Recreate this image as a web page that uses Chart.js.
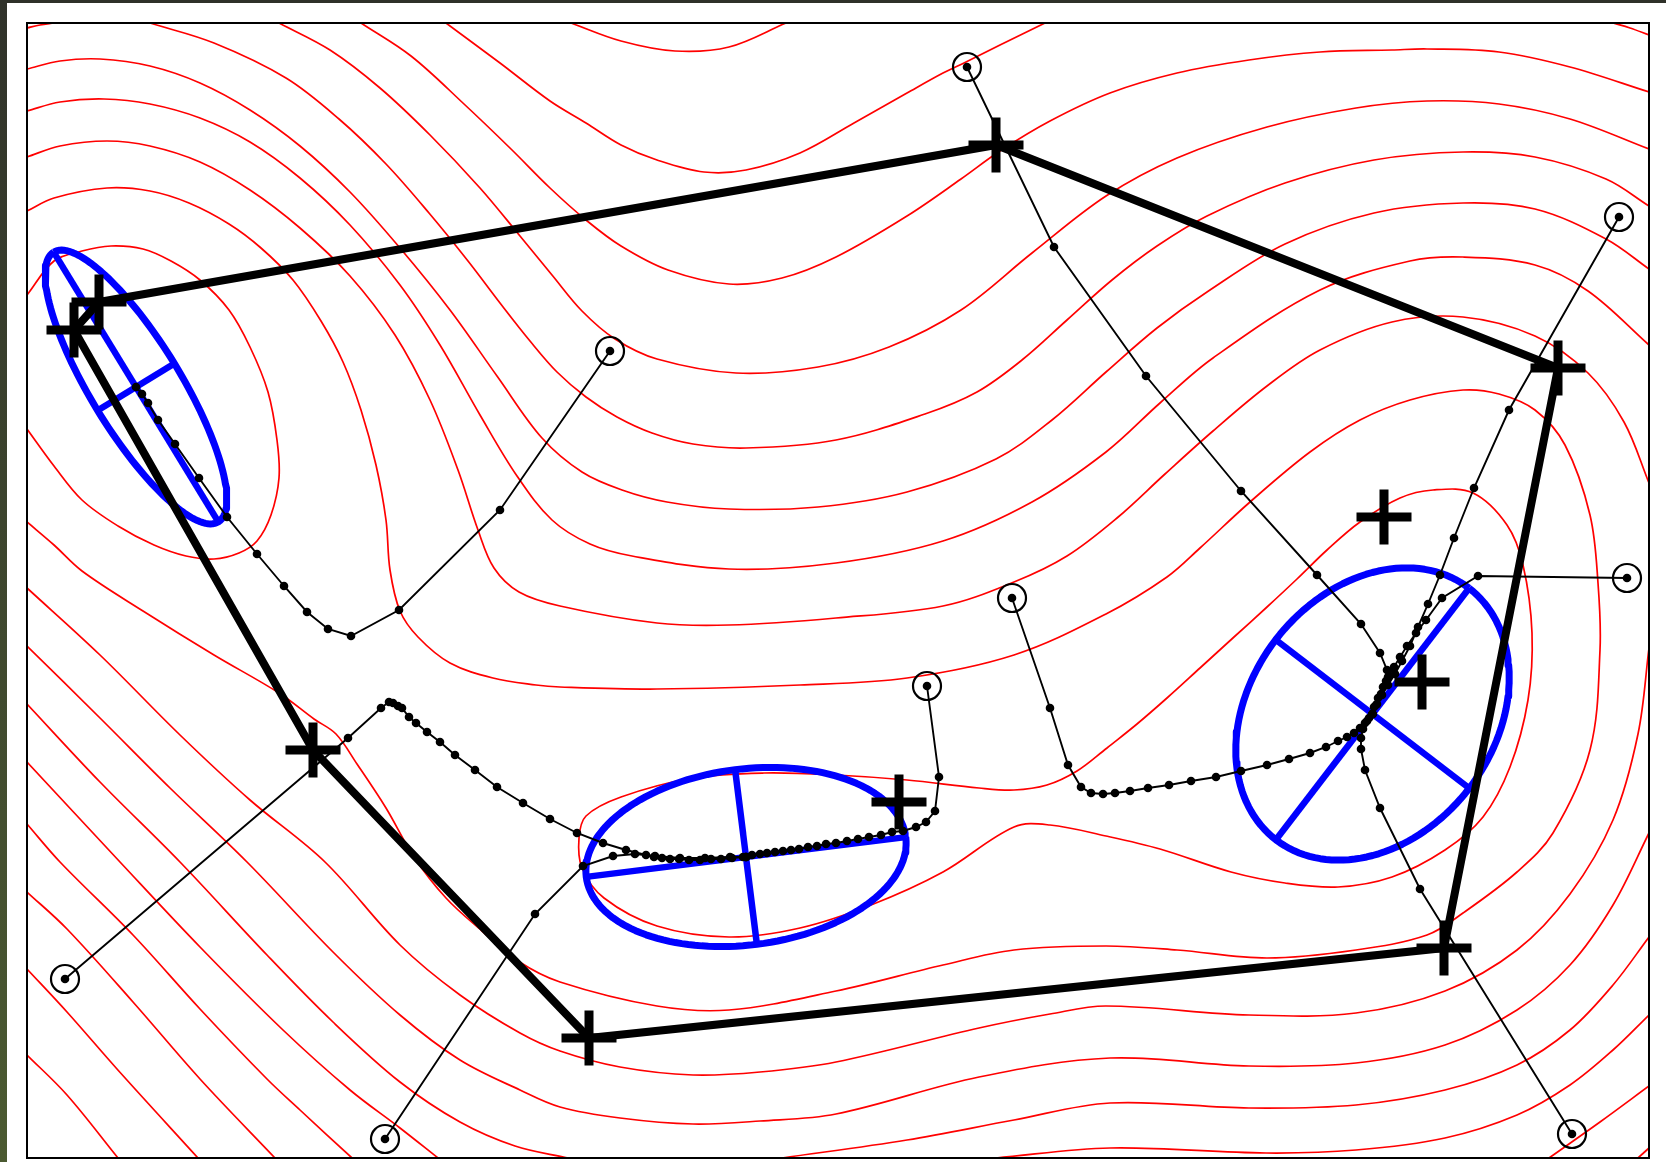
<!DOCTYPE html>
<html>
<head>
<meta charset="utf-8">
<title>Contours, descent paths and curvature ellipses</title>
<script src="https://cdn.jsdelivr.net/npm/chart.js@4.4.1/dist/chart.umd.min.js"></script>
<style>
  html, body { margin: 0; padding: 0; background: #ffffff; }
  #wrap { position: relative; width: 1666px; height: 1162px; overflow: hidden; background: #ffffff; }
  #wrap canvas { position: absolute; left: 0; top: 0; }
  #edgeTop { position: absolute; left: 0; top: 0; width: 1666px; height: 3px; background: #2f3129; }
  #edgeLeft { position: absolute; left: 0; top: 0; width: 7px; height: 1162px; background: linear-gradient(#30322a, #4b5a31); }
</style>
</head>
<body>
<div id="wrap">
  <canvas id="chart" width="1666" height="1162"></canvas>
  <div id="edgeTop"></div>
  <div id="edgeLeft"></div>
</div>
<script>
// Plane coordinates: x in [0, 16.22], y in [0, 11.35]

// ---- level curves of the objective ----
const contourC1 = [[0.00,11.30],[0.13,11.33],[0.27,11.35]];
const contourTR = [[15.86,11.35],[16.03,11.30],[16.22,11.23]];
const contourU1 = [[5.44,11.35],[5.94,11.17],[6.48,11.07],[7.02,11.11],[7.59,11.35]];
const contourU2 = [[4.19,11.35],[4.73,10.95],[5.23,10.57],[5.59,10.35],[5.94,10.13],[6.30,9.98],[6.77,9.86],[7.19,9.88],[7.73,10.05],[8.27,10.35],[8.80,10.65],[9.16,10.85],[9.39,10.96],[9.73,11.13],[10.18,11.35]];
const contourU3 = [[3.34,11.35],[3.84,11.02],[4.37,10.54],[4.84,10.09],[5.23,9.70],[5.59,9.38],[5.94,9.12],[6.41,8.88],[7.02,8.74],[7.55,8.80],[8.09,9.01],[8.80,9.42],[9.34,9.79],[9.73,10.07],[10.23,10.37],[10.83,10.65],[11.50,10.85],[12.22,10.98],[12.93,11.06],[13.65,11.08],[14.00,11.09],[14.72,11.06],[15.43,10.91],[16.22,10.66]];
const contourU4 = [[2.52,11.35],[3.03,11.08],[3.53,10.70],[4.03,10.23],[4.53,9.70],[4.93,9.22],[5.25,8.83],[5.55,8.47],[5.88,8.19],[6.30,7.99],[7.09,7.85],[7.91,7.91],[8.62,8.11],[9.34,8.48],[10.05,9.05],[10.79,9.62],[11.50,10.00],[12.40,10.31],[13.29,10.50],[14.00,10.57],[14.72,10.54],[15.43,10.39],[16.22,10.09]];
const contourU5 = [[1.23,11.35],[1.87,11.15],[2.59,10.80],[3.12,10.39],[3.59,9.94],[4.02,9.45],[4.41,8.97],[4.73,8.55],[5.03,8.17],[5.30,7.86],[5.59,7.61],[5.90,7.41],[6.25,7.25],[6.66,7.14],[7.19,7.10],[8.09,7.18],[8.98,7.44],[9.50,7.66],[9.95,7.98],[10.40,8.38],[10.85,8.78],[11.30,9.12],[11.80,9.42],[12.58,9.75],[13.47,9.98],[14.36,10.06],[15.08,10.01],[15.79,9.79],[16.22,9.52]];
const contourU6 = [[0.00,10.89],[0.33,10.97],[0.73,10.99],[1.23,10.92],[1.73,10.75],[2.23,10.48],[2.73,10.12],[3.23,9.66],[3.73,9.10],[4.23,8.48],[4.70,7.82],[5.15,7.20],[5.55,6.86],[5.95,6.68],[6.40,6.56],[7.02,6.49],[7.91,6.51],[8.80,6.66],[9.69,6.99],[10.25,7.38],[10.79,7.86],[11.30,8.30],[11.80,8.66],[12.58,9.14],[13.47,9.45],[14.36,9.55],[15.08,9.49],[15.79,9.19],[16.22,8.89]];
const contourU7 = [[0.00,10.47],[0.33,10.56],[0.77,10.59],[1.23,10.54],[1.73,10.40],[2.23,10.16],[2.73,9.80],[3.23,9.33],[3.73,8.73],[4.13,8.13],[4.53,7.43],[4.90,6.82],[5.25,6.38],[5.63,6.14],[6.05,6.02],[7.02,5.89],[8.09,5.95],[9.16,6.17],[10.05,6.56],[10.79,7.06],[11.33,7.55],[11.86,8.00],[12.93,8.68],[13.83,8.97],[14.36,9.01],[15.08,8.93],[15.61,8.67],[16.22,8.13]];
const contourU8 = [[0.00,10.01],[0.33,10.12],[0.80,10.17],[1.23,10.12],[1.73,9.96],[2.23,9.68],[2.73,9.30],[3.23,8.82],[3.68,8.23],[4.03,7.58],[4.31,6.88],[4.51,6.28],[4.67,5.90],[4.92,5.66],[5.33,5.52],[6.30,5.35],[7.02,5.33],[8.09,5.40],[9.16,5.52],[9.87,5.76],[10.40,6.02],[10.90,6.40],[11.38,6.84],[11.86,7.27],[12.40,7.72],[12.93,8.08],[13.65,8.36],[14.36,8.41],[15.08,8.22],[15.61,7.85],[15.97,7.36],[16.22,6.75]];
const contourOuter = [[0.00,9.47],[0.27,9.60],[0.80,9.70],[1.23,9.67],[1.62,9.55],[2.02,9.34],[2.34,9.10],[2.66,8.78],[2.94,8.37],[3.16,7.96],[3.34,7.48],[3.49,6.93],[3.59,6.38],[3.63,5.88],[3.73,5.47],[3.91,5.21],[4.23,4.95],[4.66,4.80],[5.09,4.73],[5.33,4.71],[6.30,4.69],[7.73,4.73],[8.80,4.80],[9.87,5.03],[10.79,5.44],[11.40,5.81],[11.73,6.10],[12.23,6.56],[12.83,7.06],[13.33,7.38],[13.83,7.58],[14.36,7.68],[14.72,7.64],[15.08,7.48],[15.38,7.13],[15.63,6.43],[15.71,5.75],[15.73,5.08],[15.63,4.08],[15.26,3.25],[14.90,2.86],[14.36,2.45],[14.00,2.23],[13.29,2.08],[12.40,2.00],[11.50,2.08],[10.79,2.12],[9.87,2.08],[9.16,1.93],[8.09,1.67],[7.02,1.48],[6.30,1.52],[5.33,1.76],[4.91,1.97],[4.55,2.27],[4.19,2.60],[3.87,3.01],[3.59,3.50],[3.30,3.94],[3.09,4.24],[2.87,4.39],[2.52,4.65],[1.87,5.03],[1.16,5.47],[0.55,5.87],[0.27,6.13],[0.00,6.36]];
const contourLeftBasin = [[0.00,8.63],[0.27,8.97],[0.55,9.07],[0.84,9.12],[1.16,9.09],[1.44,8.97],[1.73,8.78],[2.02,8.48],[2.23,8.11],[2.41,7.66],[2.50,7.18],[2.52,6.80],[2.44,6.43],[2.30,6.17],[2.12,6.05],[1.87,5.99],[1.59,6.02],[1.27,6.13],[0.91,6.32],[0.55,6.58],[0.27,6.92],[0.00,7.29]];
const contourValley = [[10.80,4.10],[11.10,4.34],[11.40,4.60],[11.73,4.90],[12.07,5.21],[12.40,5.51],[12.70,5.79],[13.00,6.08],[13.33,6.36],[13.73,6.60],[14.06,6.68],[14.46,6.65],[14.80,6.33],[14.96,5.93],[15.05,5.25],[15.01,4.58],[14.83,3.91],[14.56,3.41],[14.18,3.08],[13.65,2.81],[13.11,2.71],[12.58,2.75],[12.04,2.86],[11.33,3.09],[10.79,3.22],[10.23,3.33],[9.87,3.31],[9.16,2.86],[8.44,2.53],[7.73,2.30],[7.02,2.21],[6.30,2.32],[5.77,2.60],[5.55,2.90],[5.52,3.20],[5.59,3.42],[5.94,3.61],[6.66,3.80],[7.37,3.85],[8.09,3.83],[8.80,3.78],[9.52,3.70],[9.87,3.68],[10.20,3.73],[10.50,3.87],[10.80,4.10]];
const contourA1 = [[0.00,5.70],[0.73,5.03],[1.53,4.23],[2.23,3.58],[2.98,2.96],[3.73,2.13],[4.33,1.63],[4.93,1.25],[5.33,1.07],[5.93,0.91],[6.66,0.83],[7.33,0.86],[8.09,0.96],[9.52,1.30],[10.23,1.44],[10.79,1.52],[12.22,1.43],[13.29,1.45],[14.18,1.67],[14.90,2.08],[15.43,2.64],[15.86,3.38],[16.11,4.24],[16.22,5.10]];
const contourA2 = [[0.00,5.12],[0.73,4.40],[1.43,3.70],[2.20,2.96],[3.06,2.06],[3.73,1.43],[4.33,0.98],[4.93,0.68],[5.33,0.51],[5.93,0.40],[6.66,0.34],[7.33,0.37],[8.09,0.44],[9.52,0.81],[10.83,1.00],[12.22,0.92],[13.29,0.95],[14.18,1.13],[14.90,1.48],[15.43,1.93],[15.86,2.53],[16.22,3.25]];
const contourA3 = [[0.00,4.54],[0.73,3.76],[1.53,2.96],[2.40,2.03],[3.06,1.36],[3.73,0.76],[4.33,0.36],[4.88,0.12],[5.41,0.00]];
const contourA4 = [[7.55,0.00],[8.80,0.18],[9.87,0.38],[10.83,0.55],[12.22,0.50],[13.29,0.53],[14.18,0.68],[14.90,0.93],[15.43,1.28],[15.86,1.73],[16.22,2.21]];
const contourA5 = [[9.69,0.00],[10.83,0.10],[12.39,0.05],[13.29,0.08],[14.18,0.20],[14.90,0.43],[15.43,0.73],[15.86,1.08],[16.22,1.43]];
const contourBR1 = [[15.22,0.00],[15.73,0.36],[16.22,0.72]];
const contourBR2 = [[16.11,0.00],[16.22,0.10]];
const contourB1 = [[0.00,3.96],[0.93,2.96],[1.73,2.11],[2.56,1.28],[3.23,0.68],[3.73,0.30],[4.11,0.00]];
const contourB2 = [[0.00,3.34],[0.33,2.96],[1.06,2.23],[1.73,1.49],[2.40,0.79],[2.73,0.48],[3.25,0.00]];
const contourB3 = [[0.00,2.66],[0.40,2.29],[1.06,1.56],[1.73,0.79],[2.48,0.00]];
const contourB4 = [[0.00,1.89],[0.40,1.46],[0.90,0.89],[1.71,0.00]];
const contourB5 = [[0.00,1.03],[0.40,0.63],[0.91,0.00]];

// ---- descent runs (first point = starting guess) ----
const pathA = [[9.40,10.91],[10.27,9.11],[11.19,7.82],[12.14,6.67],[12.90,5.83],[13.34,5.34],[13.53,5.05],[13.60,4.88],[13.59,4.77],[13.54,4.64],[13.49,4.53],[13.455,4.44]];
const pathB = [[15.45,0.24],[13.93,2.69],[13.53,3.50],[13.38,3.88],[13.34,4.09],[13.34,4.20],[13.36,4.29],[13.40,4.37],[13.455,4.44]];
const pathC = [[15.92,9.41],[14.82,7.48],[14.47,6.70],[14.27,6.20],[14.13,5.83],[14.01,5.54],[13.91,5.31],[13.83,5.12],[13.75,4.97],[13.68,4.84],[13.61,4.73],[13.55,4.63],[13.50,4.54],[13.455,4.44]];
const pathD = [[16.00,5.80],[14.51,5.82],[14.15,5.60],[13.99,5.38],[13.89,5.25],[13.80,5.12],[13.73,5.01],[13.67,4.91],[13.61,4.81],[13.56,4.71],[13.51,4.60],[13.47,4.51],[13.455,4.44]];
const pathE = [[9.85,5.60],[10.23,4.50],[10.41,3.93],[10.54,3.71],[10.64,3.65],[10.76,3.64],[10.88,3.65],[11.03,3.67],[11.21,3.70],[11.42,3.73],[11.64,3.77],[11.89,3.81],[12.14,3.87],[12.40,3.93],[12.62,3.99],[12.83,4.05],[12.99,4.11],[13.11,4.17],[13.20,4.21],[13.27,4.25],[13.33,4.30],[13.38,4.35],[13.42,4.40],[13.455,4.44]];
const pathF = [[9.00,4.72],[9.12,3.81],[9.08,3.47],[8.99,3.36],[8.89,3.31],[8.76,3.27],[8.65,3.26],[8.54,3.23],[8.42,3.21],[8.31,3.19],[8.20,3.17],[8.09,3.15],[7.99,3.14],[7.90,3.12],[7.81,3.11],[7.72,3.09],[7.64,3.08],[7.56,3.07],[7.48,3.06],[7.40,3.05],[7.33,3.04],[7.25,3.03],[7.19,3.01]];
const pathG = [[5.83,8.07],[4.73,6.48],[3.72,5.48],[3.24,5.22],[3.01,5.29],[2.80,5.46],[2.57,5.72],[2.30,6.04],[2.00,6.41],[1.72,6.80],[1.48,7.14],[1.31,7.38],[1.21,7.55],[1.15,7.64],[1.09,7.71]];
const pathH = [[0.38,1.79],[3.21,4.20],[3.54,4.50],[3.62,4.56],[3.66,4.55],[3.71,4.52],[3.75,4.50],[3.82,4.41],[3.89,4.35],[4.00,4.26],[4.13,4.16],[4.28,4.03],[4.48,3.88],[4.70,3.71],[4.96,3.55],[5.23,3.39],[5.50,3.25],[5.76,3.15],[5.99,3.08],[6.19,3.03],[6.27,3.01],[6.35,3.00],[6.43,2.99],[6.52,2.99],[6.62,2.98],[6.73,2.98],[6.84,2.99],[6.94,2.99],[7.05,3.00],[7.16,3.01],[7.19,3.01]];
const pathI = [[3.58,0.19],[5.08,2.44],[5.56,2.92],[5.86,3.02],[6.08,3.04],[6.28,3.02],[6.53,3.00],[6.78,3.00],[7.03,3.01],[7.19,3.01]];

// ---- simplex polygon and marked points ----
const simplexVertices = [[0.72,8.56],[9.69,10.13],[15.31,7.90],[14.17,2.10],[5.62,1.20],[2.86,4.08],[0.47,8.28]];
const extraMarks = [[8.72,3.56],[13.57,6.41],[13.95,4.76]];

// ---- curvature ellipses at the minima ----
const ellipseCenters = [[1.09,7.71],[7.19,3.01],[13.455,4.44]];
const ellipseSemiMajor = [1.58, 1.61, 1.586];
const ellipseSemiMinor = [0.45, 0.88, 1.22];
const ellipseAngleDeg = [121.4, 7.1, 52.5];

const contours = [contourC1, contourTR, contourU1, contourU2, contourU3, contourU4, contourU5,
  contourU6, contourU7, contourU8, contourOuter, contourLeftBasin, contourValley,
  contourA1, contourA2, contourA3, contourA4, contourA5, contourBR1, contourBR2,
  contourB1, contourB2, contourB3, contourB4, contourB5];
const paths = [pathA, pathB, pathC, pathD, pathE, pathF, pathG, pathH, pathI];

const toXY = arr => arr.map(([x, y]) => ({ x, y }));

function ellipseRing(i) {
  const [cx, cy] = ellipseCenters[i];
  const a = ellipseSemiMajor[i], b = ellipseSemiMinor[i];
  const t = ellipseAngleDeg[i] * Math.PI / 180;
  const pts = [];
  const n = 144;
  for (let k = 0; k <= n; k++) {
    const s = (k / n) * 2 * Math.PI;
    pts.push({
      x: cx + a * Math.cos(t) * Math.cos(s) - b * Math.sin(t) * Math.sin(s),
      y: cy + a * Math.sin(t) * Math.cos(s) + b * Math.cos(t) * Math.sin(s)
    });
  }
  return pts;
}
function ellipseAxes(i) {
  const [cx, cy] = ellipseCenters[i];
  const a = ellipseSemiMajor[i], b = ellipseSemiMinor[i];
  const t = ellipseAngleDeg[i] * Math.PI / 180;
  return [
    [{ x: cx - a * Math.cos(t), y: cy - a * Math.sin(t) }, { x: cx + a * Math.cos(t), y: cy + a * Math.sin(t) }],
    [{ x: cx + b * Math.sin(t), y: cy - b * Math.cos(t) }, { x: cx - b * Math.sin(t), y: cy + b * Math.cos(t) }]
  ];
}

const datasets = [];

// red level curves (bottom layer)
contours.forEach(c => datasets.push({
  data: toXY(c), showLine: true, borderColor: '#ff0000', borderWidth: 1.7,
  pointRadius: 0, pointHoverRadius: 0, pointHitRadius: 0, tension: 0.35, clip: 0, order: 50
}));

// blue ellipses with their principal axes
ellipseCenters.forEach((_, i) => {
  datasets.push({
    data: ellipseRing(i), showLine: true, borderColor: '#0000ff', borderWidth: 7,
    pointRadius: 0, pointHoverRadius: 0, tension: 0, order: 40, borderJoinStyle: 'round'
  });
  ellipseAxes(i).forEach(seg => datasets.push({
    data: seg, showLine: true, borderColor: '#0000ff', borderWidth: 6.5,
    pointRadius: 0, pointHoverRadius: 0, tension: 0, order: 40
  }));
});

// descent runs: thin black polyline with a dot per iterate
paths.forEach(p => datasets.push({
  data: toXY(p), showLine: true, borderColor: '#000000', borderWidth: 1.9,
  pointRadius: 4.3, pointHoverRadius: 4.3, pointBackgroundColor: '#000000', pointBorderWidth: 0,
  tension: 0, order: 30
}));

// closed simplex polygon
datasets.push({
  data: toXY(simplexVertices.concat([simplexVertices[0]])), showLine: true,
  borderColor: '#000000', borderWidth: 8, pointRadius: 0, pointHoverRadius: 0, tension: 0,
  borderJoinStyle: 'miter', order: 20
});

// plus markers on simplex vertices and on the extra points
datasets.push({
  data: toXY(simplexVertices.concat(extraMarks)), showLine: false,
  pointStyle: 'cross', pointRadius: 27.5, pointHoverRadius: 27.5, pointBorderWidth: 9,
  pointBorderColor: '#000000', pointBackgroundColor: '#000000', order: 10
});

// rings around every starting guess
datasets.push({
  data: toXY(paths.map(p => p[0])), showLine: false,
  pointStyle: 'circle', pointRadius: 14, pointHoverRadius: 14, pointBorderWidth: 2.2,
  pointBorderColor: '#000000', pointBackgroundColor: 'rgba(0,0,0,0)', order: 5
});

const plotFrame = {
  id: 'plotFrame',
  afterDatasetsDraw(chart) {
    const { ctx, chartArea: a } = chart;
    ctx.save();
    ctx.strokeStyle = '#000000';
    ctx.lineWidth = 2;
    ctx.strokeRect(a.left, a.top, a.right - a.left, a.bottom - a.top);
    ctx.restore();
  }
};

new Chart(document.getElementById('chart'), {
  type: 'scatter',
  data: { datasets },
  options: {
    responsive: false,
    animation: false,
    devicePixelRatio: 1,
    events: [],
    layout: { autoPadding: false, padding: { left: 27, top: 23, right: 17, bottom: 4 } },
    elements: { line: { capBezierPoints: false, borderCapStyle: 'butt' } },
    plugins: { legend: { display: false }, tooltip: { enabled: false } },
    scales: {
      x: { type: 'linear', display: false, min: 0, max: 16.22 },
      y: { type: 'linear', display: false, min: 0, max: 11.35 }
    }
  },
  plugins: [plotFrame]
});
</script>
</body>
</html>
